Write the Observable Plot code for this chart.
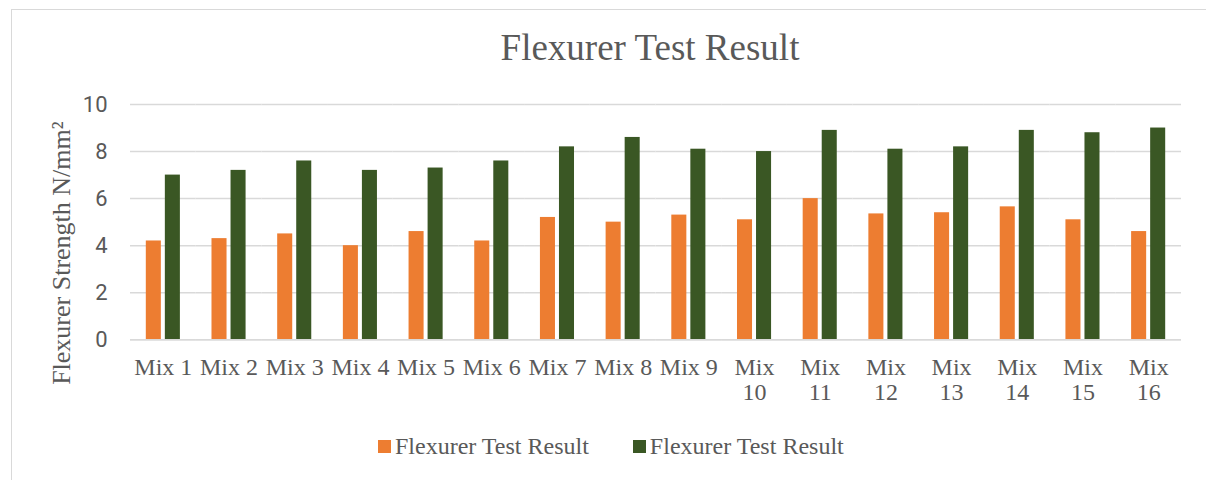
<!DOCTYPE html>
<html>
<head>
<meta charset="utf-8">
<script src="https://cdn.jsdelivr.net/npm/d3@7"></script>
<script src="https://cdn.jsdelivr.net/npm/@observablehq/plot@0.6"></script>
<style>
  html, body { margin: 0; padding: 0; background: #fff; overflow: hidden; width: 1206px; height: 480px; }
  #frame { position: absolute; left: 11px; top: 9px; width: 1300px; height: 600px; border: 1.5px solid #d9d9d9; box-sizing: border-box; }
  #title { position: absolute; left: 0; top: 29px; width: 1300px; text-align: center; font-family: "Liberation Serif", serif; font-size: 37px; line-height: 37px; color: #595959; }
  #chart { position: absolute; left: 0; top: 84px; }
  #legend { position: absolute; left: 378px; top: 434px; height: 24px; display: flex; align-items: center; font-family: "Liberation Serif", serif; font-size: 24px; line-height: 24px; color: #595959; white-space: nowrap; }
  .item { display: flex; align-items: center; margin-right: 44px; }
  .swatch { width: 13px; height: 13px; margin-right: 4px; }
</style>
</head>
<body>
<div id="frame"></div>
<div id="title">Flexurer Test Result</div>
<div id="chart"></div>
<div id="legend"></div>
<script>
const mixes = ["Mix 1","Mix 2","Mix 3","Mix 4","Mix 5","Mix 6","Mix 7","Mix 8","Mix 9","Mix 10","Mix 11","Mix 12","Mix 13","Mix 14","Mix 15","Mix 16"];
const tickLabels = ["Mix 1","Mix 2","Mix 3","Mix 4","Mix 5","Mix 6","Mix 7","Mix 8","Mix 9","Mix\n10","Mix\n11","Mix\n12","Mix\n13","Mix\n14","Mix\n15","Mix\n16"];
const seriesIds = ["series1", "series2"];
const seriesNames = ["Flexurer Test Result", "Flexurer Test Result"];
const seriesColors = ["#ED7D31", "#3A5724"];
const series1Values = [4.2, 4.3, 4.5, 4.0, 4.6, 4.2, 5.2, 5.0, 5.3, 5.1, 6.0, 5.35, 5.4, 5.65, 5.1, 4.6];
const series2Values = [7.0, 7.2, 7.6, 7.2, 7.3, 7.6, 8.2, 8.6, 8.1, 8.0, 8.9, 8.1, 8.2, 8.9, 8.8, 9.0];
const yTicks = [0, 2, 4, 6, 8, 10];
const yLabel = "Flexurer Strength N/mm²";

const rows = [];
mixes.forEach((m, i) => {
  rows.push({mix: m, series: seriesIds[0], value: series1Values[i]});
  rows.push({mix: m, series: seriesIds[1], value: series2Values[i]});
});

const chart = Plot.plot({
  width: 1206,
  height: 340,
  marginLeft: 130,
  marginRight: 25,
  marginTop: 20,
  marginBottom: 84.7,
  style: {fontFamily: "'Liberation Serif', serif", color: "#595959", background: "transparent"},
  fx: {domain: mixes, padding: 0, round: false, label: null},
  x: {domain: seriesIds, paddingInner: 0.21, paddingOuter: 0.83, round: false, axis: null},
  y: {domain: [0, 10], label: null},
  color: {domain: seriesIds, range: seriesColors},
  marks: [
    Plot.gridY(yTicks, {stroke: "#d9d9d9", strokeOpacity: 1, strokeWidth: 1.5}),
    Plot.barY(rows, {fx: "mix", x: "series", y: "value", fill: "series"}),
    Plot.ruleY([0], {stroke: "#d9d9d9", strokeWidth: 1.5}),
    Plot.axisY(yTicks, {tickSize: 0, tickPadding: 23, fontSize: 22, fontFamily: "Roboto", label: null, fill: "#595959"}),
    Plot.axisFx({anchor: "bottom", tickSize: 0, tickPadding: 17, fontSize: 24, lineHeight: 1.06, label: null, fill: "#595959",
      tickFormat: d => tickLabels[mixes.indexOf(d)]}),
    Plot.text([yLabel], {fx: () => mixes[0], frameAnchor: "left", textAnchor: "middle", dx: -69, dy: 31, rotate: -90,
      fontSize: 26, fill: "#595959", text: d => d})
  ]
});
document.getElementById("chart").appendChild(chart);

const legend = document.getElementById("legend");
seriesIds.forEach((id, i) => {
  const item = document.createElement("div");
  item.className = "item";
  const sw = document.createElement("span");
  sw.className = "swatch";
  sw.style.background = seriesColors[i];
  const label = document.createElement("span");
  label.textContent = seriesNames[i];
  item.appendChild(sw);
  item.appendChild(label);
  legend.appendChild(item);
});
</script>
</body>
</html>
